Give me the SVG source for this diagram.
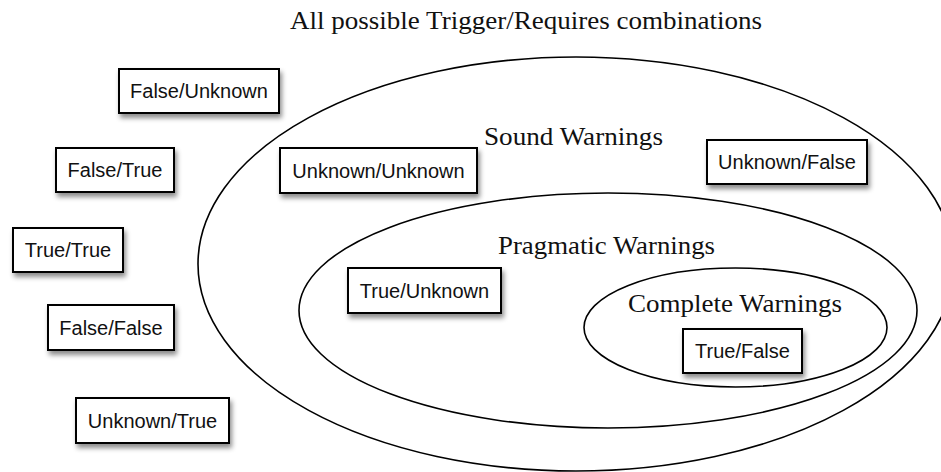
<svg xmlns="http://www.w3.org/2000/svg" width="941" height="472" viewBox="0 0 941 472">
  <defs>
    <filter id="shadow" x="-20%" y="-30%" width="150%" height="180%">
      <feDropShadow dx="2" dy="4" stdDeviation="2.5" flood-color="#000" flood-opacity="0.45"/>
    </filter>
    <style>
      .region { fill: none; stroke: #000; stroke-width: 1.6; }
      .box { fill: #fff; stroke: #000; stroke-width: 2; filter: url(#shadow); }
      .boxtext { font-family: "Liberation Sans", Arial, sans-serif; font-size: 20px; fill: #111; text-anchor: middle; }
      .label { font-family: "Liberation Serif", "Times New Roman", serif; font-size: 25px; fill: #111; }
    </style>
  </defs>
  <rect width="941" height="472" fill="#fff"/>

  <text class="label" x="290" y="29" textLength="472" lengthAdjust="spacingAndGlyphs">All possible Trigger/Requires combinations</text>

  <g id="sound-warnings">
    <ellipse class="region" cx="576" cy="264" rx="378" ry="207"/>
    <text class="label" x="484" y="145" textLength="179" lengthAdjust="spacingAndGlyphs">Sound Warnings</text>
  </g>
  <g id="pragmatic-warnings">
    <ellipse class="region" cx="608" cy="310.5" rx="309" ry="117.5"/>
    <text class="label" x="498" y="254" textLength="217" lengthAdjust="spacingAndGlyphs">Pragmatic Warnings</text>
  </g>
  <g id="complete-warnings">
    <ellipse class="region" cx="735.5" cy="327.5" rx="151.5" ry="59.5"/>
    <text class="label" x="628" y="312" textLength="214" lengthAdjust="spacingAndGlyphs">Complete Warnings</text>
  </g>

  <g id="false-unknown">
    <rect class="box" x="119" y="69" width="160" height="44"/>
    <text class="boxtext" x="199" y="98">False/Unknown</text>
  </g>
  <g id="false-true">
    <rect class="box" x="56" y="148" width="118" height="44"/>
    <text class="boxtext" x="115" y="177">False/True</text>
  </g>
  <g id="true-true">
    <rect class="box" x="13" y="228" width="110" height="44"/>
    <text class="boxtext" x="68" y="257">True/True</text>
  </g>
  <g id="false-false">
    <rect class="box" x="48" y="305" width="126" height="45"/>
    <text class="boxtext" x="111" y="334.5">False/False</text>
  </g>
  <g id="unknown-true">
    <rect class="box" x="76" y="398" width="153" height="45"/>
    <text class="boxtext" x="152.5" y="427.5">Unknown/True</text>
  </g>
  <g id="unknown-unknown">
    <rect class="box" x="280" y="148" width="197" height="45"/>
    <text class="boxtext" x="378.5" y="177.5">Unknown/Unknown</text>
  </g>
  <g id="unknown-false">
    <rect class="box" x="707" y="140" width="160" height="44"/>
    <text class="boxtext" x="787" y="169">Unknown/False</text>
  </g>
  <g id="true-unknown">
    <rect class="box" x="348" y="268" width="153" height="45"/>
    <text class="boxtext" x="424.5" y="297.5">True/Unknown</text>
  </g>
  <g id="true-false">
    <rect class="box" x="683" y="329" width="119" height="44"/>
    <text class="boxtext" x="742.5" y="358">True/False</text>
  </g>

  <g id="connectors"/>
</svg>
